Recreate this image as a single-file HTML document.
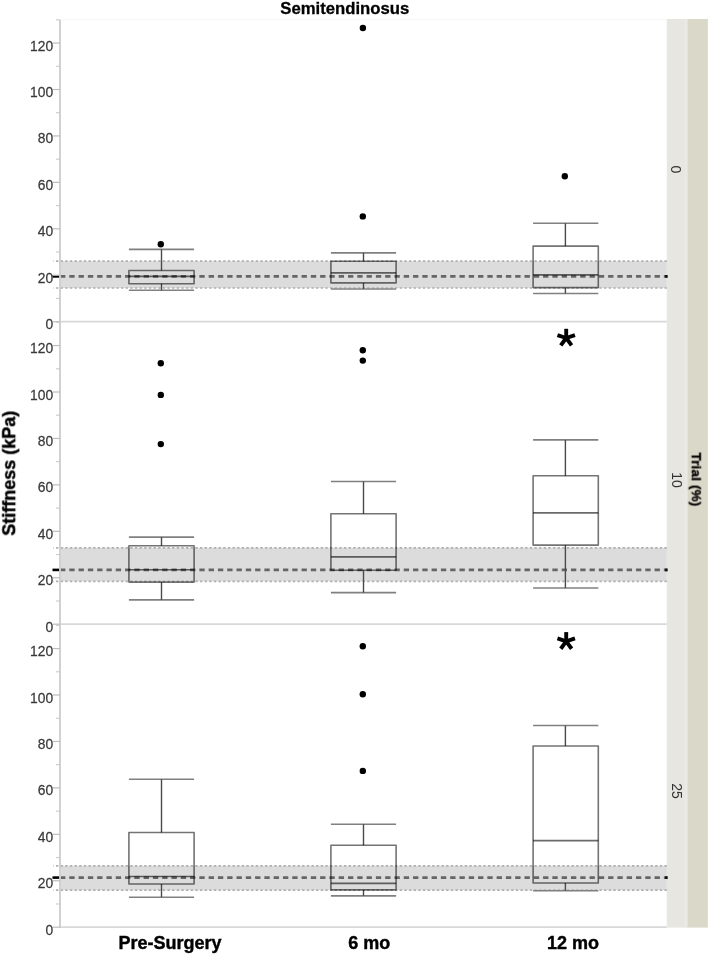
<!DOCTYPE html>
<html><head><meta charset="utf-8"><style>
html,body{margin:0;padding:0;background:#fff;}
body{width:709px;height:955px;overflow:hidden;}
svg{display:block;}
text{font-family:"Liberation Sans",sans-serif;}
.tx{filter:grayscale(1);}
.yl{font-size:14.6px;fill:#3a3a3a;stroke:#3a3a3a;stroke-width:0.25px;text-anchor:end;}
.xl{font-size:18px;font-weight:bold;fill:#000;stroke:#000;stroke-width:0.4px;text-anchor:middle;}
.tt{font-size:16.7px;font-weight:bold;fill:#000;stroke:#000;stroke-width:0.3px;text-anchor:middle;}
.st{font-size:14px;fill:#333;}
.tr{font-size:13.4px;font-weight:bold;fill:#000;stroke:#000;stroke-width:0.35px;letter-spacing:0.2px;}
</style></head><body>
<svg width="709" height="955" viewBox="0 0 709 955">
<rect x="666.8" y="19" width="20.7" height="908.6" fill="#e7e6e0"/>
<rect x="684.5" y="19" width="3" height="908.6" fill="#eae9e4"/>
<rect x="687.5" y="19" width="20.3" height="908.6" fill="#dad8c9"/>
<rect x="60.0" y="261.2" width="606.8" height="26.80000000000001" fill="#dcdcdc"/>
<rect x="60.0" y="547.8" width="606.8" height="33.5" fill="#dcdcdc"/>
<rect x="60.0" y="865.8" width="606.8" height="24.40000000000009" fill="#dcdcdc"/>
<line x1="60.0" y1="19.7" x2="666.8" y2="19.7" stroke="#f5f5f5" stroke-width="1"/>
<line x1="60.0" y1="321.7" x2="666.8" y2="321.7" stroke="#d8d8d8" stroke-width="1.75"/>
<line x1="60.0" y1="624.2" x2="666.8" y2="624.2" stroke="#d8d8d8" stroke-width="1.75"/>
<line x1="60.0" y1="927.2" x2="666.8" y2="927.2" stroke="#d8d8d8" stroke-width="1.75"/>
<line x1="53.2" y1="261.2" x2="666.8" y2="261.2" stroke="#b0b0b0" stroke-width="1.7" stroke-dasharray="2.4 2.245" stroke-dashoffset="1.9"/>
<line x1="53.2" y1="288.0" x2="666.8" y2="288.0" stroke="#b0b0b0" stroke-width="1.7" stroke-dasharray="2.4 2.245" stroke-dashoffset="1.9"/>
<line x1="60.0" y1="276.4" x2="666.8" y2="276.4" stroke="#666" stroke-width="2.8" stroke-dasharray="5.35 3.94"/>
<line x1="52.5" y1="276.4" x2="60.0" y2="276.4" stroke="#000" stroke-width="2.6"/>
<rect x="665.1" y="275.00" width="2.6" height="2.8" fill="#111"/>
<line x1="53.2" y1="547.8" x2="666.8" y2="547.8" stroke="#b0b0b0" stroke-width="1.7" stroke-dasharray="2.4 2.245" stroke-dashoffset="1.9"/>
<line x1="53.2" y1="581.3" x2="666.8" y2="581.3" stroke="#b0b0b0" stroke-width="1.7" stroke-dasharray="2.4 2.245" stroke-dashoffset="1.9"/>
<line x1="60.0" y1="569.9" x2="666.8" y2="569.9" stroke="#666" stroke-width="2.8" stroke-dasharray="5.35 3.94"/>
<line x1="52.5" y1="569.9" x2="60.0" y2="569.9" stroke="#000" stroke-width="2.6"/>
<rect x="665.1" y="568.50" width="2.6" height="2.8" fill="#111"/>
<line x1="53.2" y1="865.8" x2="666.8" y2="865.8" stroke="#b0b0b0" stroke-width="1.7" stroke-dasharray="2.4 2.245" stroke-dashoffset="1.9"/>
<line x1="53.2" y1="890.2" x2="666.8" y2="890.2" stroke="#b0b0b0" stroke-width="1.7" stroke-dasharray="2.4 2.245" stroke-dashoffset="1.9"/>
<line x1="60.0" y1="877.6" x2="666.8" y2="877.6" stroke="#666" stroke-width="2.8" stroke-dasharray="5.35 3.94"/>
<line x1="52.5" y1="877.6" x2="60.0" y2="877.6" stroke="#000" stroke-width="2.6"/>
<rect x="665.1" y="876.20" width="2.6" height="2.8" fill="#111"/>
<line x1="60.0" y1="19.9" x2="60.0" y2="928.1" stroke="#cfcfcf" stroke-width="1.9"/>
<line x1="53" y1="321.70" x2="60.0" y2="321.70" stroke="#bdbdbd" stroke-width="1.2"/>
<line x1="56" y1="298.48" x2="60.0" y2="298.48" stroke="#cacaca" stroke-width="1.1"/>
<line x1="53" y1="275.26" x2="60.0" y2="275.26" stroke="#bdbdbd" stroke-width="1.2"/>
<line x1="56" y1="252.04" x2="60.0" y2="252.04" stroke="#cacaca" stroke-width="1.1"/>
<line x1="53" y1="228.82" x2="60.0" y2="228.82" stroke="#bdbdbd" stroke-width="1.2"/>
<line x1="56" y1="205.60" x2="60.0" y2="205.60" stroke="#cacaca" stroke-width="1.1"/>
<line x1="53" y1="182.38" x2="60.0" y2="182.38" stroke="#bdbdbd" stroke-width="1.2"/>
<line x1="56" y1="159.16" x2="60.0" y2="159.16" stroke="#cacaca" stroke-width="1.1"/>
<line x1="53" y1="135.94" x2="60.0" y2="135.94" stroke="#bdbdbd" stroke-width="1.2"/>
<line x1="56" y1="112.72" x2="60.0" y2="112.72" stroke="#cacaca" stroke-width="1.1"/>
<line x1="53" y1="89.50" x2="60.0" y2="89.50" stroke="#bdbdbd" stroke-width="1.2"/>
<line x1="56" y1="66.28" x2="60.0" y2="66.28" stroke="#cacaca" stroke-width="1.1"/>
<line x1="53" y1="43.06" x2="60.0" y2="43.06" stroke="#bdbdbd" stroke-width="1.2"/>
<line x1="56" y1="19.84" x2="60.0" y2="19.84" stroke="#cacaca" stroke-width="1.1"/>
<line x1="53" y1="624.20" x2="60.0" y2="624.20" stroke="#bdbdbd" stroke-width="1.2"/>
<line x1="56" y1="600.98" x2="60.0" y2="600.98" stroke="#cacaca" stroke-width="1.1"/>
<line x1="53" y1="577.76" x2="60.0" y2="577.76" stroke="#bdbdbd" stroke-width="1.2"/>
<line x1="56" y1="554.54" x2="60.0" y2="554.54" stroke="#cacaca" stroke-width="1.1"/>
<line x1="53" y1="531.32" x2="60.0" y2="531.32" stroke="#bdbdbd" stroke-width="1.2"/>
<line x1="56" y1="508.10" x2="60.0" y2="508.10" stroke="#cacaca" stroke-width="1.1"/>
<line x1="53" y1="484.88" x2="60.0" y2="484.88" stroke="#bdbdbd" stroke-width="1.2"/>
<line x1="56" y1="461.66" x2="60.0" y2="461.66" stroke="#cacaca" stroke-width="1.1"/>
<line x1="53" y1="438.44" x2="60.0" y2="438.44" stroke="#bdbdbd" stroke-width="1.2"/>
<line x1="56" y1="415.22" x2="60.0" y2="415.22" stroke="#cacaca" stroke-width="1.1"/>
<line x1="53" y1="392.00" x2="60.0" y2="392.00" stroke="#bdbdbd" stroke-width="1.2"/>
<line x1="56" y1="368.78" x2="60.0" y2="368.78" stroke="#cacaca" stroke-width="1.1"/>
<line x1="53" y1="345.56" x2="60.0" y2="345.56" stroke="#bdbdbd" stroke-width="1.2"/>
<line x1="56" y1="322.34" x2="60.0" y2="322.34" stroke="#cacaca" stroke-width="1.1"/>
<line x1="53" y1="927.20" x2="60.0" y2="927.20" stroke="#bdbdbd" stroke-width="1.2"/>
<line x1="56" y1="903.98" x2="60.0" y2="903.98" stroke="#cacaca" stroke-width="1.1"/>
<line x1="53" y1="880.76" x2="60.0" y2="880.76" stroke="#bdbdbd" stroke-width="1.2"/>
<line x1="56" y1="857.54" x2="60.0" y2="857.54" stroke="#cacaca" stroke-width="1.1"/>
<line x1="53" y1="834.32" x2="60.0" y2="834.32" stroke="#bdbdbd" stroke-width="1.2"/>
<line x1="56" y1="811.10" x2="60.0" y2="811.10" stroke="#cacaca" stroke-width="1.1"/>
<line x1="53" y1="787.88" x2="60.0" y2="787.88" stroke="#bdbdbd" stroke-width="1.2"/>
<line x1="56" y1="764.66" x2="60.0" y2="764.66" stroke="#cacaca" stroke-width="1.1"/>
<line x1="53" y1="741.44" x2="60.0" y2="741.44" stroke="#bdbdbd" stroke-width="1.2"/>
<line x1="56" y1="718.22" x2="60.0" y2="718.22" stroke="#cacaca" stroke-width="1.1"/>
<line x1="53" y1="695.00" x2="60.0" y2="695.00" stroke="#bdbdbd" stroke-width="1.2"/>
<line x1="56" y1="671.78" x2="60.0" y2="671.78" stroke="#cacaca" stroke-width="1.1"/>
<line x1="53" y1="648.56" x2="60.0" y2="648.56" stroke="#bdbdbd" stroke-width="1.2"/>
<line x1="56" y1="625.34" x2="60.0" y2="625.34" stroke="#cacaca" stroke-width="1.1"/>
<line x1="128.9" y1="249.4" x2="194.1" y2="249.4" stroke="#808080" stroke-width="1.6"/>
<line x1="128.9" y1="290.2" x2="194.1" y2="290.2" stroke="#808080" stroke-width="1.6"/>
<line x1="161.5" y1="249.4" x2="161.5" y2="270.5" stroke="#4a4a4a" stroke-width="1.4"/>
<line x1="161.5" y1="283.7" x2="161.5" y2="290.2" stroke="#4a4a4a" stroke-width="1.4"/>
<rect x="128.9" y="270.5" width="65.2" height="13.199999999999989" fill="none" stroke="#747474" stroke-width="1.6" stroke-linejoin="round" style="mix-blend-mode:multiply"/>
<line x1="128.9" y1="276.4" x2="194.1" y2="276.4" stroke="#6a6a6a" stroke-width="1.6" style="mix-blend-mode:multiply"/>
<line x1="330.9" y1="252.9" x2="396.1" y2="252.9" stroke="#808080" stroke-width="1.6"/>
<line x1="330.9" y1="289.0" x2="396.1" y2="289.0" stroke="#808080" stroke-width="1.6"/>
<line x1="363.5" y1="252.9" x2="363.5" y2="261.2" stroke="#4a4a4a" stroke-width="1.4"/>
<line x1="363.5" y1="282.9" x2="363.5" y2="289.0" stroke="#4a4a4a" stroke-width="1.4"/>
<rect x="330.9" y="261.2" width="65.2" height="21.69999999999999" fill="none" stroke="#747474" stroke-width="1.6" stroke-linejoin="round" style="mix-blend-mode:multiply"/>
<line x1="330.9" y1="272.9" x2="396.1" y2="272.9" stroke="#6a6a6a" stroke-width="1.6" style="mix-blend-mode:multiply"/>
<line x1="533.1" y1="223.2" x2="598.3000000000001" y2="223.2" stroke="#808080" stroke-width="1.6"/>
<line x1="533.1" y1="293.5" x2="598.3000000000001" y2="293.5" stroke="#808080" stroke-width="1.6"/>
<line x1="565.4000000000001" y1="223.2" x2="565.4000000000001" y2="246.1" stroke="#4a4a4a" stroke-width="1.4"/>
<line x1="565.4000000000001" y1="287.6" x2="565.4000000000001" y2="293.5" stroke="#4a4a4a" stroke-width="1.4"/>
<rect x="533.1" y="246.1" width="65.2" height="41.50000000000003" fill="none" stroke="#747474" stroke-width="1.6" stroke-linejoin="round" style="mix-blend-mode:multiply"/>
<line x1="533.1" y1="274.9" x2="598.3000000000001" y2="274.9" stroke="#6a6a6a" stroke-width="1.6" style="mix-blend-mode:multiply"/>
<line x1="128.9" y1="537.1" x2="194.1" y2="537.1" stroke="#808080" stroke-width="1.6"/>
<line x1="128.9" y1="599.9" x2="194.1" y2="599.9" stroke="#808080" stroke-width="1.6"/>
<line x1="161.5" y1="537.1" x2="161.5" y2="545.8" stroke="#4a4a4a" stroke-width="1.4"/>
<line x1="161.5" y1="582.1" x2="161.5" y2="599.9" stroke="#4a4a4a" stroke-width="1.4"/>
<rect x="128.9" y="545.8" width="65.2" height="36.30000000000007" fill="none" stroke="#747474" stroke-width="1.6" stroke-linejoin="round" style="mix-blend-mode:multiply"/>
<line x1="128.9" y1="569.7" x2="194.1" y2="569.7" stroke="#6a6a6a" stroke-width="1.6" style="mix-blend-mode:multiply"/>
<line x1="330.9" y1="481.5" x2="396.1" y2="481.5" stroke="#808080" stroke-width="1.6"/>
<line x1="330.9" y1="592.6" x2="396.1" y2="592.6" stroke="#808080" stroke-width="1.6"/>
<line x1="363.5" y1="481.5" x2="363.5" y2="513.8" stroke="#4a4a4a" stroke-width="1.4"/>
<line x1="363.5" y1="570.3" x2="363.5" y2="592.6" stroke="#4a4a4a" stroke-width="1.4"/>
<rect x="330.9" y="513.8" width="65.2" height="56.5" fill="none" stroke="#747474" stroke-width="1.6" stroke-linejoin="round" style="mix-blend-mode:multiply"/>
<line x1="330.9" y1="556.9" x2="396.1" y2="556.9" stroke="#6a6a6a" stroke-width="1.6" style="mix-blend-mode:multiply"/>
<line x1="533.1" y1="439.9" x2="598.3000000000001" y2="439.9" stroke="#808080" stroke-width="1.6"/>
<line x1="533.1" y1="588.0" x2="598.3000000000001" y2="588.0" stroke="#808080" stroke-width="1.6"/>
<line x1="565.4000000000001" y1="439.9" x2="565.4000000000001" y2="475.8" stroke="#4a4a4a" stroke-width="1.4"/>
<line x1="565.4000000000001" y1="545.1" x2="565.4000000000001" y2="588.0" stroke="#4a4a4a" stroke-width="1.4"/>
<rect x="533.1" y="475.8" width="65.2" height="69.30000000000001" fill="none" stroke="#747474" stroke-width="1.6" stroke-linejoin="round" style="mix-blend-mode:multiply"/>
<line x1="533.1" y1="512.9" x2="598.3000000000001" y2="512.9" stroke="#6a6a6a" stroke-width="1.6" style="mix-blend-mode:multiply"/>
<line x1="128.9" y1="779.2" x2="194.1" y2="779.2" stroke="#808080" stroke-width="1.6"/>
<line x1="128.9" y1="897.2" x2="194.1" y2="897.2" stroke="#808080" stroke-width="1.6"/>
<line x1="161.5" y1="779.2" x2="161.5" y2="832.5" stroke="#4a4a4a" stroke-width="1.4"/>
<line x1="161.5" y1="884.0" x2="161.5" y2="897.2" stroke="#4a4a4a" stroke-width="1.4"/>
<rect x="128.9" y="832.5" width="65.2" height="51.5" fill="none" stroke="#747474" stroke-width="1.6" stroke-linejoin="round" style="mix-blend-mode:multiply"/>
<line x1="128.9" y1="876.5" x2="194.1" y2="876.5" stroke="#6a6a6a" stroke-width="1.6" style="mix-blend-mode:multiply"/>
<line x1="330.9" y1="824.2" x2="396.1" y2="824.2" stroke="#808080" stroke-width="1.6"/>
<line x1="330.9" y1="895.9" x2="396.1" y2="895.9" stroke="#808080" stroke-width="1.6"/>
<line x1="363.5" y1="824.2" x2="363.5" y2="845.3" stroke="#4a4a4a" stroke-width="1.4"/>
<line x1="363.5" y1="889.9" x2="363.5" y2="895.9" stroke="#4a4a4a" stroke-width="1.4"/>
<rect x="330.9" y="845.3" width="65.2" height="44.60000000000002" fill="none" stroke="#747474" stroke-width="1.6" stroke-linejoin="round" style="mix-blend-mode:multiply"/>
<line x1="330.9" y1="883.4" x2="396.1" y2="883.4" stroke="#6a6a6a" stroke-width="1.6" style="mix-blend-mode:multiply"/>
<line x1="533.1" y1="725.5" x2="598.3000000000001" y2="725.5" stroke="#808080" stroke-width="1.6"/>
<line x1="533.1" y1="890.7" x2="598.3000000000001" y2="890.7" stroke="#808080" stroke-width="1.6"/>
<line x1="565.4000000000001" y1="725.5" x2="565.4000000000001" y2="746.0" stroke="#4a4a4a" stroke-width="1.4"/>
<line x1="565.4000000000001" y1="883.0" x2="565.4000000000001" y2="890.7" stroke="#4a4a4a" stroke-width="1.4"/>
<rect x="533.1" y="746.0" width="65.2" height="137.0" fill="none" stroke="#747474" stroke-width="1.6" stroke-linejoin="round" style="mix-blend-mode:multiply"/>
<line x1="533.1" y1="840.6" x2="598.3000000000001" y2="840.6" stroke="#6a6a6a" stroke-width="1.6" style="mix-blend-mode:multiply"/>
<circle cx="160.8" cy="244.2" r="3.2" fill="#000"/>
<circle cx="362.9" cy="28.0" r="3.2" fill="#000"/>
<circle cx="362.8" cy="216.4" r="3.2" fill="#000"/>
<circle cx="564.8" cy="176.2" r="3.2" fill="#000"/>
<circle cx="160.8" cy="363.3" r="3.2" fill="#000"/>
<circle cx="160.8" cy="394.9" r="3.2" fill="#000"/>
<circle cx="160.8" cy="444.1" r="3.2" fill="#000"/>
<circle cx="362.8" cy="350.3" r="3.2" fill="#000"/>
<circle cx="362.8" cy="360.6" r="3.2" fill="#000"/>
<circle cx="362.8" cy="646.2" r="3.2" fill="#000"/>
<circle cx="362.8" cy="694.2" r="3.2" fill="#000"/>
<circle cx="362.8" cy="770.9" r="3.2" fill="#000"/>
<line x1="566.2" y1="338.0" x2="566.20" y2="328.80" stroke="#000" stroke-width="3.9"/><line x1="566.2" y1="338.0" x2="574.95" y2="335.16" stroke="#000" stroke-width="3.9"/><line x1="566.2" y1="338.0" x2="571.61" y2="345.44" stroke="#000" stroke-width="3.9"/><line x1="566.2" y1="338.0" x2="560.79" y2="345.44" stroke="#000" stroke-width="3.9"/><line x1="566.2" y1="338.0" x2="557.45" y2="335.16" stroke="#000" stroke-width="3.9"/>
<line x1="566.2" y1="641.3" x2="566.20" y2="632.10" stroke="#000" stroke-width="3.9"/><line x1="566.2" y1="641.3" x2="574.95" y2="638.46" stroke="#000" stroke-width="3.9"/><line x1="566.2" y1="641.3" x2="571.61" y2="648.74" stroke="#000" stroke-width="3.9"/><line x1="566.2" y1="641.3" x2="560.79" y2="648.74" stroke="#000" stroke-width="3.9"/><line x1="566.2" y1="641.3" x2="557.45" y2="638.46" stroke="#000" stroke-width="3.9"/>
<g class="tx"><text transform="translate(53.1,329.20) scale(0.95,1)" class="yl">0</text>
<text transform="translate(53.1,282.76) scale(0.95,1)" class="yl">20</text>
<text transform="translate(53.1,236.32) scale(0.95,1)" class="yl">40</text>
<text transform="translate(53.1,189.88) scale(0.95,1)" class="yl">60</text>
<text transform="translate(53.1,143.44) scale(0.95,1)" class="yl">80</text>
<text transform="translate(53.1,97.00) scale(0.95,1)" class="yl">100</text>
<text transform="translate(53.1,50.56) scale(0.95,1)" class="yl">120</text>
<text transform="translate(53.1,631.70) scale(0.95,1)" class="yl">0</text>
<text transform="translate(53.1,585.26) scale(0.95,1)" class="yl">20</text>
<text transform="translate(53.1,538.82) scale(0.95,1)" class="yl">40</text>
<text transform="translate(53.1,492.38) scale(0.95,1)" class="yl">60</text>
<text transform="translate(53.1,445.94) scale(0.95,1)" class="yl">80</text>
<text transform="translate(53.1,399.50) scale(0.95,1)" class="yl">100</text>
<text transform="translate(53.1,353.06) scale(0.95,1)" class="yl">120</text>
<text transform="translate(53.1,934.70) scale(0.95,1)" class="yl">0</text>
<text transform="translate(53.1,888.26) scale(0.95,1)" class="yl">20</text>
<text transform="translate(53.1,841.82) scale(0.95,1)" class="yl">40</text>
<text transform="translate(53.1,795.38) scale(0.95,1)" class="yl">60</text>
<text transform="translate(53.1,748.94) scale(0.95,1)" class="yl">80</text>
<text transform="translate(53.1,702.50) scale(0.95,1)" class="yl">100</text>
<text transform="translate(53.1,656.06) scale(0.95,1)" class="yl">120</text>
<text x="344.8" y="13.8" class="tt">Semitendinosus</text>
<text transform="translate(15.2,473.3) rotate(-90)" text-anchor="middle" style="font-size:18px;font-weight:bold;fill:#000;stroke:#000;stroke-width:0.4px">Stiffness (kPa)</text>
<text x="170.1" y="948.8" class="xl">Pre-Surgery</text>
<text x="369.3" y="949.1" class="xl">6 mo</text>
<text x="572.9" y="949.2" class="xl">12 mo</text>
<text transform="translate(671.2,169.3) rotate(90)" text-anchor="middle" class="st">0</text>
<text transform="translate(672.1,480.1) rotate(90)" text-anchor="middle" class="st">10</text>
<text transform="translate(672.1,791.1) rotate(90)" text-anchor="middle" class="st">25</text>
<text transform="translate(691.8,479.5) rotate(90)" text-anchor="middle" class="tr">Trial (%)</text>
</g>
</svg>
</body></html>
